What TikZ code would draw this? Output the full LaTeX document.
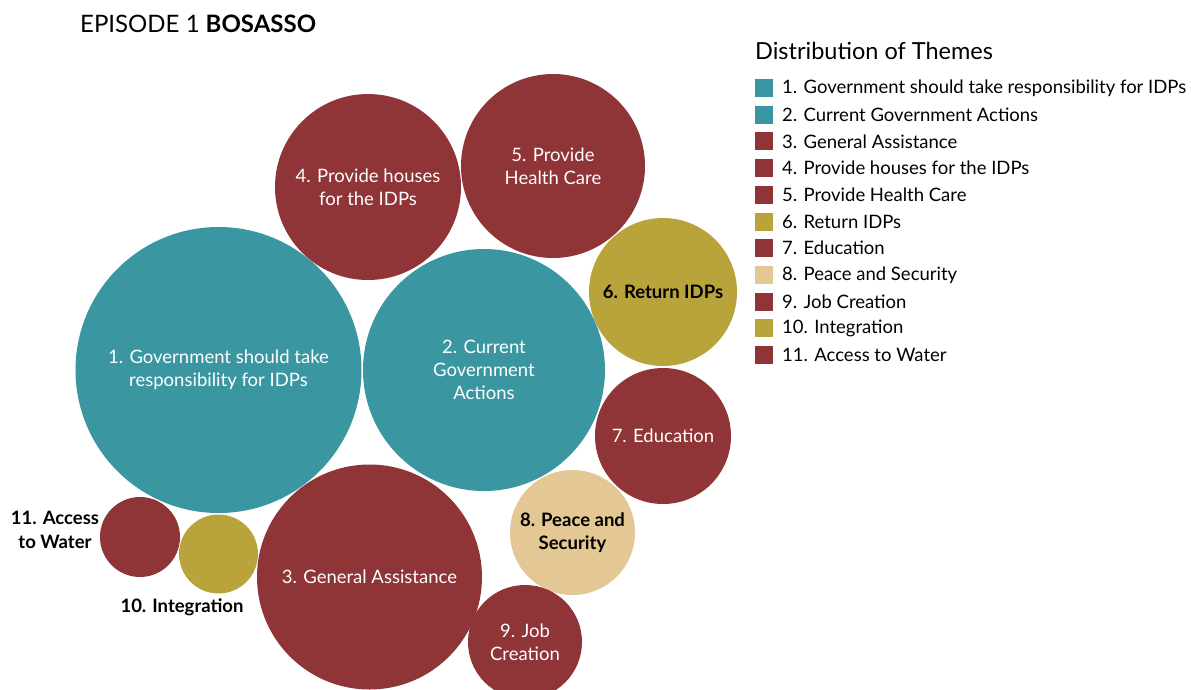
\documentclass[tikz,border=0pt]{standalone}
\usepackage{fontspec}
\setmainfont{Lato}
\usepackage{xcolor}
\definecolor{tealc}{HTML}{3A96A0}
\definecolor{redc}{HTML}{8F3437}
\definecolor{goldc}{HTML}{B9A43C}
\definecolor{beigec}{HTML}{E3C795}
\tikzset{
  bub/.style={circle, inner sep=0pt, align=center, font=\fontsize{18.5}{23}\selectfont},
  legbox/.style={minimum size=18, inner sep=0pt, anchor=west},
  legtxt/.style={anchor=west, inner sep=0pt, font=\fontsize{18.5}{20}\selectfont}
}
\begin{document}
\begin{tikzpicture}[x=1pt,y=1pt,yscale=-1,xscale=1]
\useasboundingbox (0,0) rectangle (1191,689);

% Text Node
\node [anchor=west, inner sep=0pt, font=\fontsize{24}{26}\selectfont] (title) at (80,24) {EPISODE 1 \textbf{BOSASSO}};

%Shape: Circle
\node [bub, fill=tealc, text=white, minimum size=286] (govt) at (218.5,370) {1. Government should take\\responsibility for IDPs};
%Shape: Circle
\node [bub, fill=tealc, text=white, minimum size=242] (current) at (484,370) {2. Current\\Government\\Actions};
%Shape: Circle
\node [bub, fill=redc, text=white, minimum size=225] (general) at (369.5,577) {3. General Assistance};
%Shape: Circle
\node [bub, fill=redc, text=white, minimum size=186] (houses) at (368,187) {4. Provide houses\\for the IDPs};
%Shape: Circle
\node [bub, fill=redc, text=white, minimum size=184] (health) at (553,166) {5. Provide\\Health Care};
%Shape: Circle
\node [bub, fill=goldc, text=black, font=\fontsize{18.5}{23}\selectfont\bfseries, minimum size=148] (return) at (663,292) {6. Return IDPs};
%Shape: Circle
\node [bub, fill=redc, text=white, minimum size=136] (education) at (663,436) {7. Education};
%Shape: Circle
\node [bub, fill=beigec, text=black, font=\fontsize{18.5}{23}\selectfont\bfseries, minimum size=125] (peace) at (572.5,532.5) {8. Peace and\\Security};
%Shape: Circle
\node [bub, fill=redc, text=white, minimum size=114] (job) at (525,642) {9. Job\\Creation};
%Shape: Circle
\node [bub, fill=goldc, minimum size=79] (integration) at (218.5,554) {};
%Shape: Circle
\node [bub, fill=redc, minimum size=80] (water) at (140,537) {};

% Text Node
\node [align=center, inner sep=0pt, font=\fontsize{18.5}{24}\selectfont\bfseries] (waterlbl) at (55,530) {11. Access\\to Water};
% Text Node
\node [inner sep=0pt, font=\fontsize{18.5}{20}\selectfont\bfseries] (integrlbl) at (182,607) {10. Integration};

% Legend
\node [anchor=west, inner sep=0pt, font=\fontsize{23.5}{26}\selectfont] (legtitle) at (755,51) {Distribution of Themes};
\foreach \i/\c/\t in {1/tealc/1. Government should take responsibility for IDPs,
                      2/tealc/2. Current Government Actions,
                      3/redc/3. General Assistance,
                      4/redc/4. Provide houses for the IDPs,
                      5/redc/5. Provide Health Care,
                      6/goldc/6. Return IDPs,
                      7/redc/7. Education,
                      8/beigec/8. Peace and Security,
                      9/redc/9. Job Creation,
                      10/goldc/10. Integration,
                      11/redc/11. Access to Water}{
  \node [legbox, fill=\c] (box\i) at (755,{88+26.7*(\i-1)}) {};
  \node [legtxt] (leg\i) at (782,{88+26.7*(\i-1)}) {\t};
}

\end{tikzpicture}
\end{document}
